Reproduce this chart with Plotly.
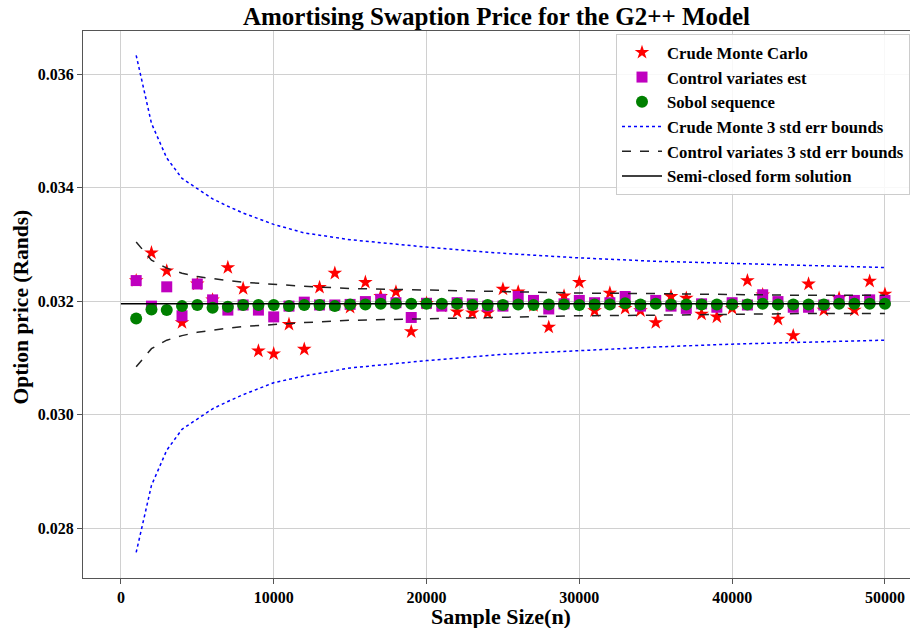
import plotly.graph_objects as go

# Sample sizes
n = [1000, 2000, 3000, 4000, 5000, 6000, 7000, 8000, 9000, 10000,
     11000, 12000, 13000, 14000, 15000, 16000, 17000, 18000, 19000, 20000,
     21000, 22000, 23000, 24000, 25000, 26000, 27000, 28000, 29000, 30000,
     31000, 32000, 33000, 34000, 35000, 36000, 37000, 38000, 39000, 40000,
     41000, 42000, 43000, 44000, 45000, 46000, 47000, 48000, 49000, 50000]

crude_mc = [0.03236, 0.03285, 0.03253, 0.03162, 0.03230, 0.03202, 0.03259, 0.03222, 0.03112, 0.03107,
            0.03159, 0.03115, 0.03224, 0.03249, 0.03189, 0.03233, 0.03208, 0.03216, 0.03146, 0.03196,
            0.03191, 0.03181, 0.03179, 0.03179, 0.03221, 0.03216, 0.03192, 0.03154, 0.03209, 0.03233,
            0.03183, 0.03214, 0.03187, 0.03183, 0.03162, 0.03208, 0.03205, 0.03177, 0.03172, 0.03187,
            0.03236, 0.03211, 0.03168, 0.03139, 0.03230, 0.03184, 0.03205, 0.03184, 0.03235, 0.03212]

control_var = [0.03236, 0.03191, 0.03225, 0.03174, 0.03230, 0.03202, 0.03184, 0.03193, 0.03184, 0.03172,
               0.03191, 0.03198, 0.03193, 0.03193, 0.03194, 0.03199, 0.03203, 0.03197, 0.03171, 0.03196,
               0.03191, 0.03197, 0.03195, 0.03191, 0.03191, 0.03208, 0.03201, 0.03186, 0.03195, 0.03201,
               0.03197, 0.03197, 0.03208, 0.03191, 0.03201, 0.03191, 0.03187, 0.03195, 0.03189, 0.03197,
               0.03193, 0.03211, 0.03199, 0.03189, 0.03189, 0.03193, 0.03201, 0.03201, 0.03202, 0.03201]

sobol = [0.03169, 0.03185, 0.03184, 0.03191, 0.03193, 0.03188, 0.03190, 0.03193, 0.03193, 0.03193,
         0.03191, 0.03193, 0.03193, 0.03191, 0.03194, 0.03194, 0.03195, 0.03195, 0.03195, 0.03195,
         0.03195, 0.03195, 0.03193, 0.03193, 0.03193, 0.03194, 0.03193, 0.03194, 0.03194, 0.03193,
         0.03194, 0.03194, 0.03196, 0.03194, 0.03195, 0.03194, 0.03194, 0.03194, 0.03194, 0.03194,
         0.03194, 0.03195, 0.03194, 0.03194, 0.03194, 0.03194, 0.03195, 0.03195, 0.03195, 0.03195]

# Bound curves (read at selected sample sizes)
n_bounds = [1000, 2000, 3000, 4000, 5000, 6000, 7000, 8000, 10000, 12000,
            15000, 20000, 25000, 30000, 35000, 40000, 45000, 50000]
mc_upper = [0.03633, 0.03513, 0.03452, 0.03416, 0.03398, 0.03380, 0.03367, 0.03355, 0.03335, 0.03320,
            0.03308, 0.03295, 0.03284, 0.03276, 0.03270, 0.03266, 0.03262, 0.03259]
mc_lower = [0.02757, 0.02875, 0.02937, 0.02974, 0.02992, 0.03010, 0.03023, 0.03035, 0.03056, 0.03068,
            0.03082, 0.03095, 0.03106, 0.03113, 0.03119, 0.03124, 0.03128, 0.03131]
cv_upper = [0.03304, 0.03272, 0.03258, 0.03249, 0.03243, 0.03239, 0.03236, 0.03233, 0.03229, 0.03226,
            0.03222, 0.03219, 0.03216, 0.03214, 0.03213, 0.03211, 0.03210, 0.03210]
cv_lower = [0.03084, 0.03116, 0.03131, 0.03139, 0.03145, 0.03149, 0.03152, 0.03155, 0.03159, 0.03162,
            0.03166, 0.03169, 0.03172, 0.03174, 0.03175, 0.03177, 0.03178, 0.03178]

closed_n = [0, 50000]
closed_val = [0.03195, 0.03195]

FONT = "Liberation Serif"

fig = go.Figure()
fig.add_trace(go.Scatter(x=n, y=crude_mc, mode="markers", name="Crude Monte Carlo",
                         legendgroup="a",
                         marker=dict(symbol="star", size=11, color="#ff0000", line=dict(width=0))))
fig.add_trace(go.Scatter(x=n, y=control_var, mode="markers", name="Control variates est",
                         legendgroup="b",
                         marker=dict(symbol="square", size=11, color="#bf00bf", line=dict(width=0))))
fig.add_trace(go.Scatter(x=n, y=sobol, mode="markers", name="Sobol sequence",
                         legendgroup="c",
                         marker=dict(symbol="circle", size=12, color="#008000", line=dict(width=0))))
fig.add_trace(go.Scatter(x=n_bounds, y=mc_upper, mode="lines", name="Crude Monte 3 std err bounds",
                         legendgroup="d",
                         line=dict(color="#0000ff", dash="dot", width=1.5)))
fig.add_trace(go.Scatter(x=n_bounds, y=mc_lower, mode="lines", showlegend=False,
                         legendgroup="d",
                         line=dict(color="#0000ff", dash="dot", width=1.5)))
fig.add_trace(go.Scatter(x=n_bounds, y=cv_upper, mode="lines", name="Control variates 3 std err bounds",
                         legendgroup="e",
                         line=dict(color="#222222", dash="dash", width=1.5)))
fig.add_trace(go.Scatter(x=n_bounds, y=cv_lower, mode="lines", showlegend=False,
                         legendgroup="e",
                         line=dict(color="#222222", dash="dash", width=1.5)))
fig.add_trace(go.Scatter(x=closed_n, y=closed_val, mode="lines", name="Semi-closed form solution",
                         legendgroup="f",
                         line=dict(color="#000000", width=1.5)))

fig.update_layout(
    width=910, height=628,
    margin=dict(l=83, r=0, t=31, b=50, autoexpand=False),
    paper_bgcolor="white", plot_bgcolor="white",
    font=dict(family=FONT, color="black", size=16, weight="bold"),
    title=dict(text="Amortising Swaption Price for the G2++ Model", x=0.5456, xanchor="center",
               y=0.974, yanchor="middle",
               font=dict(family=FONT, size=25, weight="bold", color="black")),
    showlegend=True,
    legend=dict(x=1.0, y=(578 - 34) / 547, xanchor="right", yanchor="top",
                bgcolor="rgba(255,255,255,0.85)", bordercolor="#cccccc", borderwidth=1,
                font=dict(family=FONT, size=16.7, weight="bold", color="black"),
                itemwidth=40,
                traceorder="grouped", tracegroupgap=0),
    xaxis=dict(range=[-2480, 51640], tickvals=[0, 10000, 20000, 30000, 40000, 50000],
               ticktext=["0", "10000", "20000", "30000", "40000", "50000"],
               showgrid=True, gridcolor="#d0d0d0", gridwidth=1, zeroline=False,
               showline=True, linecolor="#555555", linewidth=1, mirror=True,
               ticks="outside", ticklen=5, tickcolor="#555555",
               tickfont=dict(family=FONT, size=16, weight="bold", color="black")),
    yaxis=dict(range=[0.027119, 0.036758], tickvals=[0.028, 0.030, 0.032, 0.034, 0.036],
               ticktext=["0.028", "0.030", "0.032", "0.034", "0.036"],
               showgrid=True, gridcolor="#d0d0d0", gridwidth=1, zeroline=False,
               showline=True, linecolor="#555555", linewidth=1, mirror=False,
               ticks="outside", ticklen=5, tickcolor="#555555",
               tickfont=dict(family=FONT, size=16, weight="bold", color="black")),
    annotations=[
        dict(text="Sample Size(n)", xref="paper", yref="paper",
             x=(501 - 83) / 827, y=(578 - 616) / 547, xanchor="center", yanchor="middle",
             borderpad=0,
             showarrow=False, font=dict(family=FONT, size=22, weight="bold", color="black")),
        dict(text="Option price (Rands)", xref="paper", yref="paper", textangle=-90,
             x=(20 - 83) / 827, y=(578 - 307.5) / 547, xanchor="center", yanchor="middle",
             borderpad=0,
             showarrow=False, font=dict(family=FONT, size=21.5, weight="bold", color="black")),
    ],
)

fig.write_html("out.html")
